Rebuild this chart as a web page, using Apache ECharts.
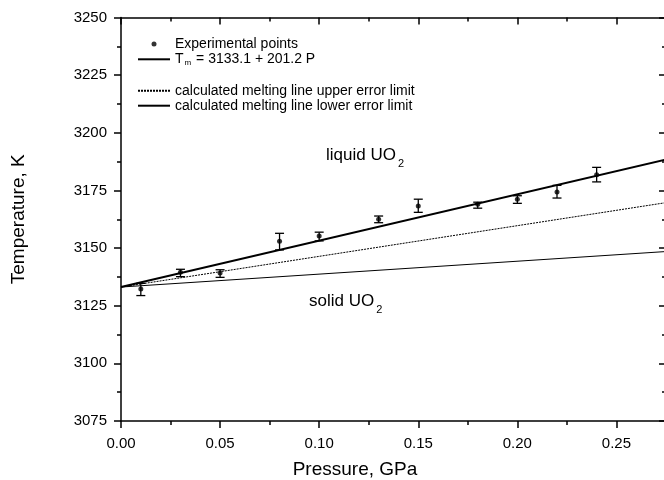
<!DOCTYPE html>
<html><head><meta charset="utf-8">
<script src="https://cdn.jsdelivr.net/npm/echarts@6/dist/echarts.min.js"></script>
<style>html,body{margin:0;padding:0;background:#fff}#c{width:664px;height:480px}</style>
</head><body><div id="c"></div>
<script>
// ---- data ----
const pressure    = [0.01, 0.03, 0.05, 0.08, 0.10, 0.13, 0.15, 0.18, 0.20, 0.22, 0.24];
const temperature = [3132.3, 3139.5, 3139.2, 3153.0, 3155.2, 3162.5, 3168.3, 3169.0, 3171.2, 3174.3, 3181.8];
const errHigh     = [3134.7, 3140.8, 3140.6, 3156.4, 3156.9, 3163.9, 3171.2, 3169.9, 3172.7, 3177.2, 3185.0];
const errLow      = [3129.4, 3137.6, 3137.3, 3149.2, 3153.1, 3161.0, 3165.5, 3167.3, 3169.4, 3171.7, 3178.7];
const fitLine     = [[0, 3133.1], [0.275, 3188.4]];
const upperLimit  = [[0, 3133.1], [0.275, 3169.7]];
const lowerLimit  = [[0, 3133.1], [0.275, 3148.5]];
const xRange = {min: 0, max: 0.275, interval: 0.05};
const yRange = {min: 3075, max: 3250, interval: 25};
const seriesNames = ['Experimental points', 'Tm = 3133.1 + 201.2 P',
  'calculated melting line upper error limit', 'calculated melting line lower error limit'];

const FONT = "'Liberation Sans', Arial, sans-serif";
const chart = echarts.init(document.getElementById('c'), null, {renderer: 'canvas'});

const axisLineStyle = {color: '#000', width: 1.5};
function xAxisCfg(pos, inside, labels) {
  return {
    type: 'value', position: pos, min: xRange.min, max: xRange.max, interval: xRange.interval,
    axisLine: {show: true, onZero: false, lineStyle: axisLineStyle},
    axisTick: {show: true, inside: inside, length: 7, lineStyle: axisLineStyle},
    minorTick: {show: true, splitNumber: 2, length: 4, lineStyle: axisLineStyle},
    splitLine: {show: false},
    axisLabel: {show: labels, margin: 15, color: '#000', fontFamily: FONT, fontSize: 15,
      formatter: v => (v > 0.26 ? '' : v.toFixed(2))}
  };
}
function yAxisCfg(pos, inside, labels) {
  return {
    type: 'value', position: pos, min: yRange.min, max: yRange.max, interval: yRange.interval,
    axisLine: {show: true, onZero: false, lineStyle: axisLineStyle},
    axisTick: {show: true, inside: inside, length: 7, lineStyle: axisLineStyle},
    minorTick: {show: true, splitNumber: 2, length: 4, lineStyle: axisLineStyle},
    splitLine: {show: false},
    axisLabel: {show: labels, margin: 14, color: '#000', fontFamily: FONT, fontSize: 15,
      formatter: v => String(v)}
  };
}
const xBottom = xAxisCfg('bottom', false, true);
xBottom.name = 'Pressure, GPa';
xBottom.nameLocation = 'middle';
xBottom.nameGap = 39;
xBottom.nameTextStyle = {color: '#000', fontFamily: FONT, fontSize: 19, padding: [0, 77, 0, 0]};
const yLeft = yAxisCfg('left', false, true);
yLeft.name = 'Temperature, K';
yLeft.nameLocation = 'middle';
yLeft.nameGap = 93;
yLeft.nameTextStyle = {color: '#000', fontFamily: FONT, fontSize: 19};

const legendText = {
  color: '#000', fontFamily: FONT, fontSize: 14, lineHeight: 15,
  rich: {
    t: {color: '#000', fontFamily: FONT, fontSize: 14, lineHeight: 15},
    sub: {color: '#000', fontFamily: FONT, fontSize: 8, lineHeight: 5, verticalAlign: 'bottom', padding: [0, 1, 0, 1]}
  }
};
const legendFmt = n => n.indexOf('Tm') === 0 ? '{t|T}{sub|m}{t|' + n.slice(2) + '}' : n;
const noSym = {opacity: 0};
const regionRich = {
  a: {fontFamily: FONT, fontSize: 17, lineHeight: 28, fill: '#000', color: '#000'},
  s: {fontFamily: FONT, fontSize: 11, lineHeight: 12, verticalAlign: 'bottom', padding: [0, 0, 0, 2], fill: '#000', color: '#000'}
};

const option = {
  animation: false,
  backgroundColor: '#fff',
  grid: {left: 121, top: 17.5, width: 545, height: 403.5, outerBoundsMode: 'none', containLabel: false},
  xAxis: [xBottom, xAxisCfg('top', true, false)],
  yAxis: [yLeft, yAxisCfg('right', true, false)],
  legend: [
    {orient: 'vertical', left: 137, top: 36.5, padding: 0, itemWidth: 32, itemHeight: 5, itemGap: 0.3,
     selectedMode: false, textStyle: legendText, formatter: legendFmt,
     data: [{name: seriesNames[0]}, {name: seriesNames[1], itemStyle: noSym}]},
    {orient: 'vertical', left: 137, top: 83.2, padding: 0, itemWidth: 32, itemHeight: 5, itemGap: 0,
     selectedMode: false, textStyle: legendText, formatter: legendFmt,
     data: [{name: seriesNames[2], itemStyle: noSym}, {name: seriesNames[3], itemStyle: noSym}]}
  ],
  series: [
    {name: seriesNames[0], type: 'scatter', symbol: 'circle', symbolSize: 5,
     itemStyle: {color: '#000'}, z: 5,
     data: pressure.map((p, i) => [p, temperature[i]])},
    {name: seriesNames[1], type: 'line', symbol: 'none', data: fitLine,
     itemStyle: {color: '#000'}, lineStyle: {color: '#000', width: 2}},
    {name: seriesNames[2], type: 'line', symbol: 'none', data: upperLimit,
     itemStyle: {color: '#000'}, lineStyle: {color: '#000', width: 1, type: [2, 1]}},
    {name: seriesNames[3], type: 'line', symbol: 'none', data: lowerLimit,
     itemStyle: {color: '#000'}, lineStyle: {color: '#000', width: 1}},
    {name: 'error bars', type: 'custom', z: 4,
     data: pressure.map((p, i) => [p, errLow[i], errHigh[i]]),
     encode: {x: 0, y: [1, 2]},
     renderItem: function (params, api) {
       const x = api.value(0);
       const lo = api.coord([x, api.value(1)]);
       const hi = api.coord([x, api.value(2)]);
       const hw = 4.5;
       const st = {stroke: '#000', lineWidth: 1.3};
       return {type: 'group', children: [
         {type: 'line', shape: {x1: lo[0], y1: lo[1], x2: hi[0], y2: hi[1]}, style: st},
         {type: 'line', shape: {x1: hi[0] - hw, y1: hi[1], x2: hi[0] + hw, y2: hi[1]}, style: st},
         {type: 'line', shape: {x1: lo[0] - hw, y1: lo[1], x2: lo[0] + hw, y2: lo[1]}, style: st}
       ]};
     }}
  ],
  graphic: [
    {type: 'text', x: 326, y: 155, silent: true,
     style: {text: '{a|liquid UO}{s|2}', verticalAlign: 'middle', align: 'left', rich: regionRich}},
    {type: 'text', x: 309, y: 301, silent: true,
     style: {text: '{a|solid UO}{s|2}', verticalAlign: 'middle', align: 'left', rich: regionRich}}
  ]
};
chart.setOption(option);
</script>
</body></html>
